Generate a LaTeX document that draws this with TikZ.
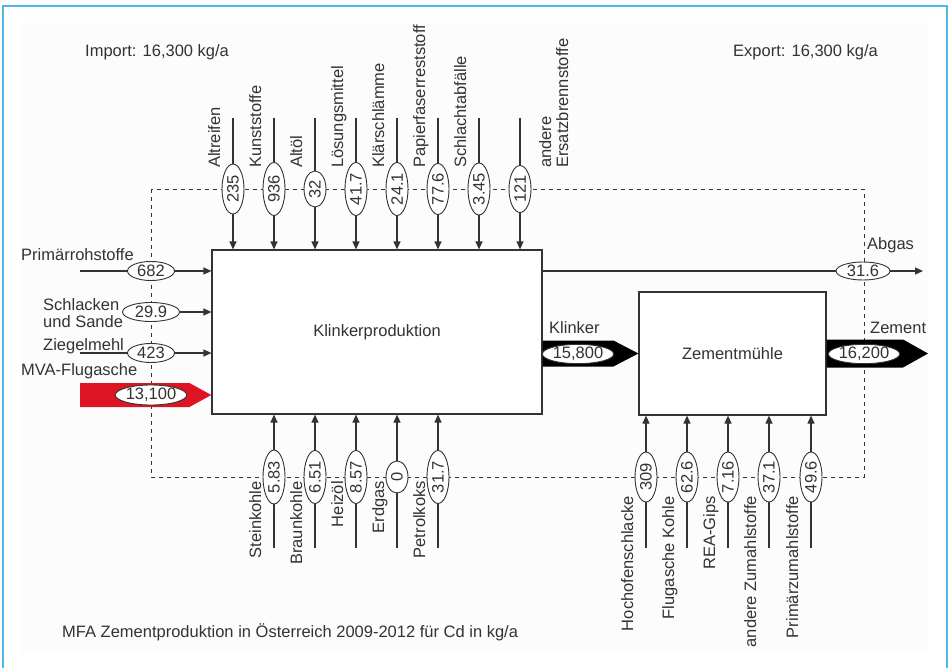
\documentclass[tikz,border=0pt]{standalone}
\usepackage{fontspec}
\setmainfont{Liberation Sans}
\usetikzlibrary{shapes.geometric,arrows.meta,calc}
\definecolor{frameblue}{RGB}{76,183,232}
\definecolor{ink}{RGB}{51,51,51}
\definecolor{mvared}{RGB}{220,20,35}
\begin{document}
\begin{tikzpicture}[x=1pt,y=-1pt,
  every node/.style={font=\fontsize{16.5pt}{18pt}\selectfont, text=ink, inner sep=0pt},
  proc/.style={draw=ink, line width=1.2pt, fill=white},
  flow/.style={draw=ink, line width=1.2pt},
  inflow/.style={flow, -{Triangle[length=8pt,width=7pt]}},
  bound/.style={draw=ink, line width=0.8pt, dash pattern=on 4pt off 4pt},
  hval/.style={ellipse, draw=ink, line width=0.9pt, fill=white, minimum height=19pt},
  vval/.style={ellipse, draw=ink, line width=0.9pt, fill=white, minimum height=22pt, rotate=90},
  vlab/.style={rotate=90},
]
\useasboundingbox (0,0) rectangle (949,668);
% panel and frame
\fill[black!1] (21,23) rectangle (928,653);
\draw[frameblue, line width=2.2pt] (3,668) -- (3,6) -- (947,6) -- (947,668);

% system boundary
\draw[bound] (151,189) rectangle (864,477);

% processes
\node[proc, minimum width=330pt, minimum height=164pt] (kp) at (377,332) {Klinkerproduktion};
\node[proc, minimum width=187pt, minimum height=123pt] (zm) at (732.5,353.5) {Zementmühle};

% secondary fuels from above
\foreach \x/\v/\w [count=\i] in {233/235/50, 274/936/53, 315/32/36, 356/41.7/53,
    397/24.1/53, 438/77.6/51, 479/3.45/52, 520/121/47} {
  \coordinate (ts\i) at (\x,118);
  \node[vval, minimum width=\w pt] (tv\i) at (\x,189) {\v};
  \draw[flow] (ts\i) -- (tv\i);
  \draw[inflow] (tv\i) -- (tv\i |- kp.north);
}
\foreach \x/\lab [count=\i] in {233/Altreifen, 274/Kunststoffe, 315/Altöl,
    356/Lösungsmittel, 397/Klärschlämme, 438/Papierfaserreststoff, 479/Schlachtabfälle} {
  \node[vlab, anchor=base west] (tl\i) at ({\x-13},168) {\lab};
}
\node[vlab, anchor=base west] (tl8a) at (551,168) {andere};
\node[vlab, anchor=base west] (tl8b) at (568,168) {Ersatzbrennstoffe};

% fuels from below
\foreach \x/\v/\w/\lab [count=\i] in {274/5.83/54/Steinkohle, 315/6.51/53/Braunkohle,
    356/8.57/53/Heizöl, 397/0/32/Erdgas, 438/31.7/53/Petrolkoks} {
  \coordinate (bs\i) at (\x,548);
  \node[vval, minimum width=\w pt] (bv\i) at (\x,477) {\v};
  \draw[flow] (bs\i) -- (bv\i);
  \draw[inflow] (bv\i) -- (bv\i |- kp.south);
  \node[vlab, anchor=base east] (bl\i) at ({\x-13},481) {\lab};
}

% additives to the cement mill
\foreach \x/\v/\lab [count=\i] in {646/309/Hochofenschlacke, 687/62.6/Flugasche Kohle,
    728/7.16/REA-Gips, 769/37.1/andere Zumahlstoffe, 811/49.6/Primärzumahlstoffe} {
  \coordinate (zs\i) at (\x,548);
  \node[vval, minimum width=50pt] (zv\i) at (\x,477) {\v};
  \draw[flow] (zs\i) -- (zv\i);
  \draw[inflow] (zv\i) -- (zv\i |- zm.south);
  \node[vlab, anchor=base east] (zl\i) at ({\x-13},496) {\lab};
}

% raw materials from the left
\coordinate (l1s) at (80,271);
\node[hval, minimum width=47pt] (l1v) at (151,271) {682};
\draw[flow] (l1s) -- (l1v);
\draw[inflow] (l1v) -- (l1v -| kp.west);
\node[anchor=base west] (l1t) at (21,260) {Primärrohstoffe};

\node[hval, minimum width=57pt] (l2v) at (151,312) {29.9};
\draw[inflow] (l2v) -- (l2v -| kp.west);
\node[anchor=base west] (l2t) at (43,310) {Schlacken};
\node[anchor=base west] (l2u) at (43,327) {und Sande};

\coordinate (l3s) at (80,353);
\node[hval, minimum width=47pt] (l3v) at (151,353) {423};
\draw[flow] (l3s) -- (l3v);
\draw[inflow] (l3v) -- (l3v -| kp.west);
\node[anchor=base west] (l3t) at (43,350) {Ziegelmehl};

% MVA fly ash (wide red arrow)
\coordinate (mva0) at (80,395);
\coordinate (mva1) at (kp.west |- mva0);
\fill[mvared] ($(mva0)+(0,-12)$) -- ($(mva1)+(-22,-12)$) -- (mva1)
  -- ($(mva1)+(-22,12)$) -- ($(mva0)+(0,12)$) -- cycle;
\node[hval, minimum width=70pt, minimum height=20pt] (mvav) at (151,395) {13,100};
\node[anchor=base west] (mvat) at (21,375) {MVA-Flugasche};

% clinker (wide black arrow)
\coordinate (kl0) at (kp.east |- zm.west);
\fill[black] ($(kl0)+(0,-13)$) -- ($(zm.west)+(-25,-13)$) -- (zm.west)
  -- ($(zm.west)+(-25,13)$) -- ($(kl0)+(0,13)$) -- cycle;
\node[hval, minimum width=68pt, minimum height=18pt] (klv) at (578,354) {15,800};
\node[anchor=base west] (klt) at (549,333) {Klinker};

% cement (wide black arrow)
\coordinate (ze1) at (928,353.5);
\fill[black] ($(zm.east)+(0,-14)$) -- ($(ze1)+(-25,-14)$) -- (ze1)
  -- ($(ze1)+(-25,14)$) -- ($(zm.east)+(0,14)$) -- cycle;
\node[hval, minimum width=70pt, minimum height=17pt] (zev) at (864,354) {16,200};
\node[anchor=base west] (zet) at (870,333) {Zement};

% exhaust gas
\coordinate (abrow) at (0,271);
\coordinate (ab1) at (923,271);
\node[hval, minimum width=54pt, minimum height=18pt] (abv) at (863,271) {31.6};
\draw[flow] (kp.east |- abrow) -- (abv);
\draw[inflow] (abv) -- (ab1);
\node[anchor=base west] (abt) at (867,249.5) {Abgas};

% balance totals and caption
\node[anchor=base west] (imp) at (85,57) {Import: 16,300 kg/a};
\node[anchor=base west] (exp) at (733,57) {Export: 16,300 kg/a};
\node[anchor=base west] (cap) at (62,637) {MFA Zementproduktion in Österreich 2009-2012 für Cd in kg/a};
\end{tikzpicture}
\end{document}
